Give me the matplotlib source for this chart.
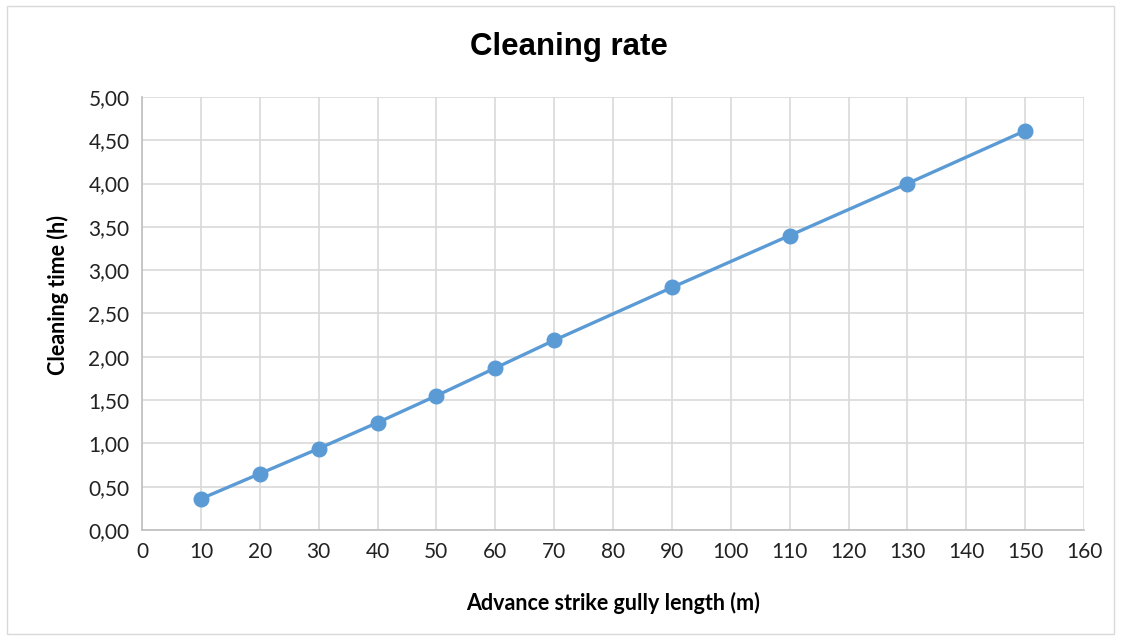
import matplotlib
matplotlib.use('Agg')
import matplotlib.pyplot as plt
from matplotlib.ticker import FuncFormatter, MultipleLocator
from matplotlib.patches import Rectangle

# gully length (m) vs cleaning time (h)
length_m = [10, 20, 30, 40, 50, 60, 70, 90, 110, 130, 150]
time_h = [0.36, 0.65, 0.94, 1.24, 1.55, 1.87, 2.19, 2.80, 3.40, 4.00, 4.61]

plt.rcParams['font.family'] = ['Lato', 'DejaVu Sans']

fig = plt.figure(figsize=(11.21, 6.40), dpi=100)
fig.patches.append(Rectangle((0.006, 0.01), 0.988, 0.98, transform=fig.transFigure,
                             fill=False, edgecolor='#d9d9d9', linewidth=1))
ax = fig.add_axes([0.1267, 0.1719, 0.8403, 0.6766])

ax.plot(length_m, time_h, color='#5b9bd5', linewidth=2.4, marker='o',
        markersize=10.5, zorder=3)

ax.set_xlim(0, 160)
ax.set_ylim(0, 5)
ax.xaxis.set_major_locator(MultipleLocator(10))
ax.yaxis.set_major_locator(MultipleLocator(0.5))
ax.yaxis.set_major_formatter(FuncFormatter(lambda v, p: f"{v:.2f}".replace('.', ',')))

ax.grid(True, color='#d9d9d9', linewidth=1.2)
ax.set_axisbelow(True)
for s in ['top', 'right']:
    ax.spines[s].set_visible(False)
for s in ['left', 'bottom']:
    ax.spines[s].set_color('#bfbfbf')
    ax.spines[s].set_linewidth(1.2)
ax.tick_params(length=0, labelsize=15, colors='#222222', pad=9)

ax.set_xlabel('Advance strike gully length (m)', fontsize=15.5, fontweight='bold')
ax.set_ylabel('Cleaning time (h)', fontsize=15.5, fontweight='bold')
ax.xaxis.set_label_coords(0.5, -0.143)
ax.yaxis.set_label_coords(-0.078, 0.543)
fig.text(0.5076, 0.926, 'Cleaning rate', ha='center', va='center', fontsize=22.5,
         fontweight='bold', family='Liberation Sans')

fig.savefig('out.png', dpi=100)
